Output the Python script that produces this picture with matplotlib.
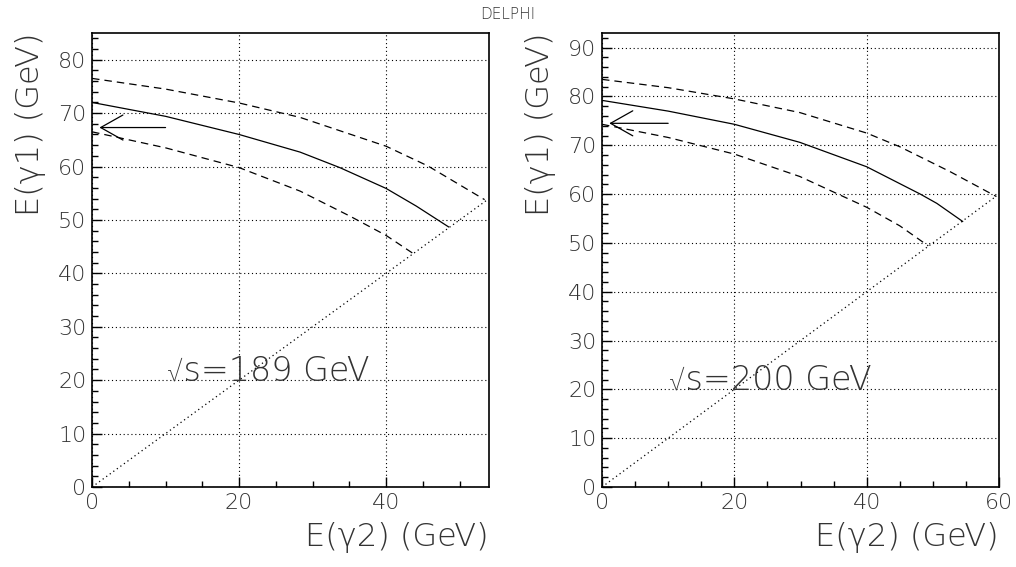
import matplotlib
matplotlib.use("Agg")
import matplotlib.pyplot as plt
from matplotlib.ticker import MultipleLocator

plt.rcParams["font.family"] = ["DejaVu Sans", "Roboto"]
plt.rcParams["font.weight"] = "light"
plt.rcParams["axes.labelweight"] = "light"

# sqrt(s) = 189 GeV panel
e189_solid_x = [0, 10, 20, 28.3, 33.7, 40, 44.1, 48.5]
e189_solid_y = [72, 69.4, 66, 62.7, 59.8, 55.9, 52.6, 48.7]
e189_upper_x = [0, 10, 20, 28.3, 40, 45.7, 53.4]
e189_upper_y = [76.5, 74.5, 71.9, 69.2, 63.8, 60.1, 53.8]
e189_lower_x = [0, 10, 20, 28.3, 35.1, 40, 43.7]
e189_lower_y = [66.5, 63.5, 59.8, 55.4, 50.7, 47.1, 43.7]
e189_diag = [0, 53.6]
e189_arrow = (10, 1, 67.3)

# sqrt(s) = 200 GeV panel
e200_solid_x = [0, 10, 20, 29.9, 40, 48.1, 50.6, 54.5]
e200_solid_y = [79.2, 77, 74.3, 70.6, 65.6, 60.0, 58.1, 54.4]
e200_upper_x = [0, 10, 20, 29.9, 40, 45, 52.6, 59.6]
e200_upper_y = [83.5, 81.8, 79.5, 76.7, 72.5, 69.7, 64.6, 59.5]
e200_lower_x = [0, 10, 20, 29.9, 40, 45, 49.3]
e200_lower_y = [74.3, 71.6, 68.2, 63.6, 57.3, 53.5, 49.4]
e200_diag = [0, 59.6]
e200_arrow = (10, 1.1, 74.5)

panels = [
    dict(solid=(e189_solid_x, e189_solid_y), upper=(e189_upper_x, e189_upper_y),
         lower=(e189_lower_x, e189_lower_y), diag=e189_diag, arrow=e189_arrow,
         xlim=54, ylim=85, xticks=[0, 20, 40], label="\u221as=189 GeV",
         pos=[0.0906, 0.1411, 0.3907, 0.8007]),
    dict(solid=(e200_solid_x, e200_solid_y), upper=(e200_upper_x, e200_upper_y),
         lower=(e200_lower_x, e200_lower_y), diag=e200_diag, arrow=e200_arrow,
         xlim=60, ylim=93, xticks=[0, 20, 40, 60], label="\u221as=200 GeV",
         pos=[0.5925, 0.1411, 0.3908, 0.8007]),
]

txt = "#333333"
fig = plt.figure(figsize=(10.16, 5.67), dpi=100)

for p in panels:
    ax = fig.add_axes(p["pos"])
    ax.set_xlim(0, p["xlim"])
    ax.set_ylim(0, p["ylim"])

    ax.plot(*p["solid"], color="black", lw=0.9)
    ax.plot(*p["upper"], color="black", lw=0.9, ls=(0, (6, 4)))
    ax.plot(*p["lower"], color="black", lw=0.9, ls=(0, (6, 4)))
    ax.plot(p["diag"], p["diag"], color="black", lw=0.9, ls=(0, (1, 2.5)))

    x0, x1, ya = p["arrow"]
    ax.annotate("", xy=(x1, ya), xytext=(x0, ya),
                arrowprops=dict(arrowstyle="->, head_length=0.8, head_width=0.45",
                                color="black", lw=0.9, mutation_scale=20,
                                shrinkA=0, shrinkB=0))

    ax.text(10.2, 20, p["label"], fontsize=24, color=txt, va="baseline")

    ax.set_xticks(p["xticks"])
    ax.xaxis.set_minor_locator(MultipleLocator(5))
    ax.yaxis.set_major_locator(MultipleLocator(10))
    ax.yaxis.set_minor_locator(MultipleLocator(2))
    ax.grid(True, which="major", color="black", ls=(0, (1, 2.5)), lw=0.8)
    ax.tick_params(which="both", direction="in", top=False, right=False,
                   labelsize=16, labelcolor=txt, width=1)
    ax.tick_params(which="major", length=7, pad=4)
    ax.tick_params(which="minor", length=4)
    for s in ax.spines.values():
        s.set_linewidth(1.2)

    ax.set_xlabel("E(\u03b32) (GeV)", fontsize=23, color=txt, loc="right", labelpad=7)
    ax.set_ylabel("E(\u03b31) (GeV)", fontsize=23, color=txt, loc="top", labelpad=9)

fig.text(0.5, 0.975, "DELPHI", ha="center", va="center", fontsize=11, color=txt)

fig.savefig("out.png", dpi=100)
